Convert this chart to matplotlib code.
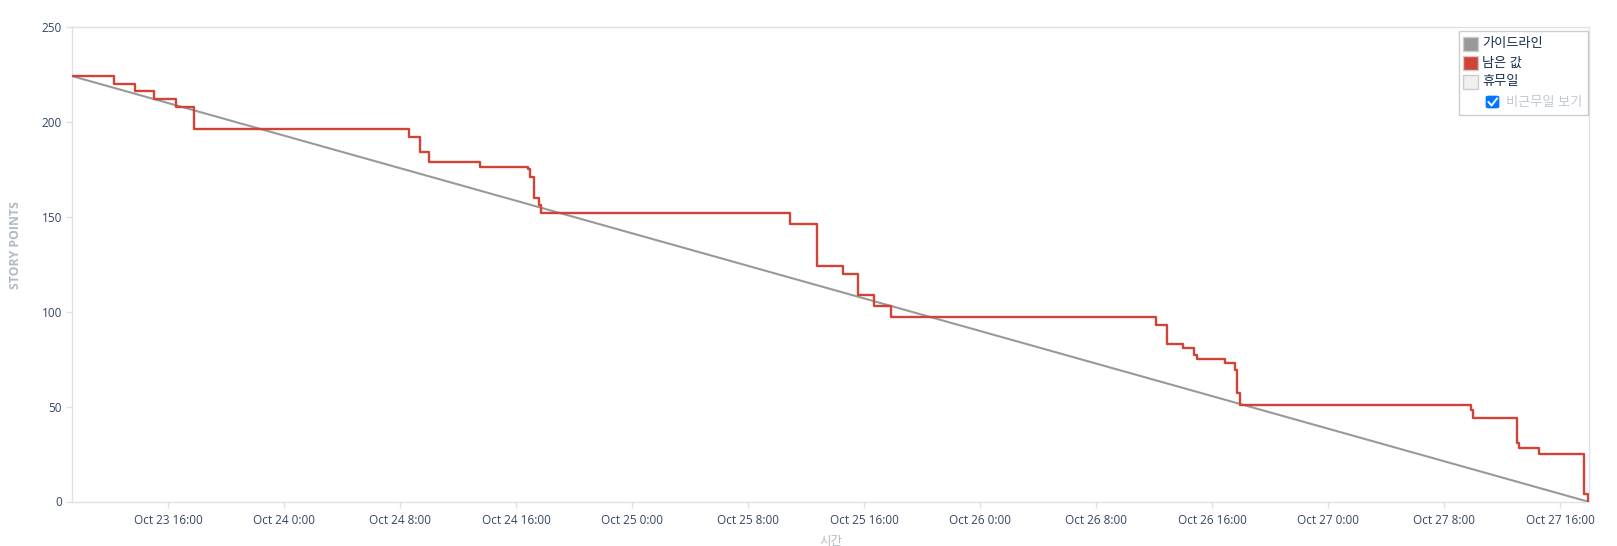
import pandas as pd
import matplotlib
matplotlib.use("Agg")
import matplotlib.pyplot as plt
from matplotlib.patches import Rectangle, FancyBboxPatch
from matplotlib.lines import Line2D

plt.rcParams['font.family'] = ['Open Sans', 'Noto Sans CJK KR', 'DejaVu Sans']

# data
guide_times = ["2023-10-23 09:23", "2023-10-27 17:53"]
guide_values = [224, 0]

remain_times = [
    "2023-10-23 09:23", "2023-10-23 12:17", "2023-10-23 13:41", "2023-10-23 15:01",
    "2023-10-23 16:33", "2023-10-23 17:45",
    "2023-10-24 08:36", "2023-10-24 09:22", "2023-10-24 09:57", "2023-10-24 13:30",
    "2023-10-24 16:50", "2023-10-24 16:57", "2023-10-24 17:13", "2023-10-24 17:36",
    "2023-10-24 17:42",
    "2023-10-25 10:54", "2023-10-25 12:43", "2023-10-25 14:31", "2023-10-25 15:34",
    "2023-10-25 16:41", "2023-10-25 17:50",
    "2023-10-26 12:06", "2023-10-26 12:51", "2023-10-26 14:00", "2023-10-26 14:44",
    "2023-10-26 14:55", "2023-10-26 16:53", "2023-10-26 17:34", "2023-10-26 17:43",
    "2023-10-26 17:55",
    "2023-10-27 09:50", "2023-10-27 10:00", "2023-10-27 13:02", "2023-10-27 13:08",
    "2023-10-27 14:32", "2023-10-27 17:38", "2023-10-27 17:53",
]
remain_values = [
    224, 220, 216, 212, 208, 196,
    192, 184, 179, 176, 175, 171, 160, 156, 152,
    146, 124, 120, 109, 103, 97,
    93, 83, 81, 77, 75, 73, 69, 57, 51,
    48, 44, 31, 28, 25, 4, 0,
]

x_start, x_end = "2023-10-23 09:23", "2023-10-27 17:59"
tick_times = pd.date_range("2023-10-23 16:00", "2023-10-27 16:00", freq="8h")
y_ticks = [0, 50, 100, 150, 200, 250]

legend_labels = ["가이드라인", "남은 값", "휴무일"]
legend_colors = ["#999999", "#d04437", "#f0f0f0"]

W, H = 1617, 546
fig = plt.figure(figsize=(W / 100, H / 100), dpi=100)
ax = fig.add_axes([72.3 / W, 1 - 501.5 / H, (1589 - 72.3) / W, (501.5 - 26.8) / H])

gt = pd.to_datetime(guide_times)
rt = pd.to_datetime(remain_times)
ax.plot(gt, guide_values, color="#999999", lw=1.5, zorder=2)
ax.plot(rt, remain_values, color="#d04437", lw=1.7, drawstyle="steps-post", zorder=3)

ax.set_xlim(pd.Timestamp(x_start), pd.Timestamp(x_end))
ax.set_ylim(0, 250)
ax.set_yticks(y_ticks)
ax.set_xticks(tick_times)
ax.set_xticklabels([f"{t:%b} {t.day} {t.hour}:{t:%M}" for t in tick_times])

grid_col = "#dfe1e6"
for s in ax.spines.values():
    s.set_color(grid_col)
    s.set_linewidth(1)
ax.tick_params(colors=grid_col, labelcolor="#344563", labelsize=8.5, length=4, width=1)
ax.tick_params(axis="x", pad=5)

ax.set_ylabel("STORY POINTS", color="#b3bac5", fontsize=8.8, fontweight="bold")
ax.yaxis.set_label_coords((22 - 72.3) / (1589 - 72.3), 0.54)
ax.set_xlabel("시간", color="#b3bac5", fontsize=9, va="center")
ax.xaxis.set_label_coords(0.5, (501.5 - 541) / (501.5 - 26.8))


def fx(x):
    return x / W


def fy(y):
    return 1 - y / H


# legend box drawn by hand to fit the checkbox row
fig.patches.append(Rectangle((fx(1459), fy(115)), fx(1588) - fx(1459), fy(31) - fy(115),
                             transform=fig.transFigure, facecolor="white",
                             edgecolor="#cccccc", lw=1, zorder=5))
row_y = [44, 63, 82]
for lab, col, yc in zip(legend_labels, legend_colors, row_y):
    fig.patches.append(Rectangle((fx(1463), fy(yc + 6.5)), fx(1478) - fx(1463), fy(yc - 6.5) - fy(yc + 6.5),
                                 transform=fig.transFigure, facecolor=col,
                                 edgecolor="#cccccc", lw=1, zorder=6))
    fig.text(fx(1482), fy(yc), lab, fontsize=9.5, color="#172b4d", va="center", ha="left",
             fontweight="light", zorder=6)

fig.patches.append(FancyBboxPatch((fx(1486), fy(108)), fx(1499) - fx(1486), fy(96) - fy(108),
                                  boxstyle="round,pad=0,rounding_size=0.002",
                                  transform=fig.transFigure, facecolor="#0075ff",
                                  edgecolor="#0075ff", lw=0.5, zorder=6))
fig.lines.append(Line2D([fx(1488.5), fx(1491.5), fx(1497)], [fy(102), fy(105.5), fy(98.5)],
                        transform=fig.transFigure, color="white", lw=1.4, zorder=7))
fig.text(fx(1506), fy(102.5), "비근무일 보기", fontsize=9.5, color="#c1c7d0",
         va="center", ha="left", fontweight="light", zorder=6)

fig.savefig("out.png", dpi=100)
